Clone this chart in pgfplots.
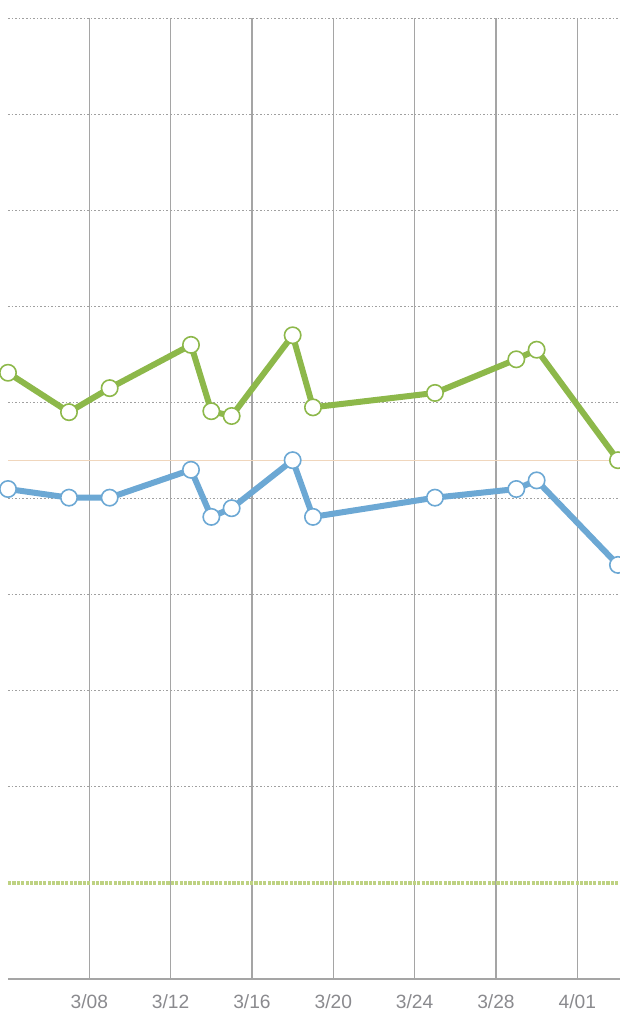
\documentclass[border=0pt]{standalone}
\usepackage{fontspec}
\setmainfont{Liberation Sans}
\usepackage{pgfplots}
\pgfplotsset{compat=1.18}
\usetikzlibrary{calc}

\definecolor{hgreen}{RGB}{141,184,74}
\definecolor{hblue}{RGB}{108,168,212}
\definecolor{refgreen}{RGB}{190,210,130}
\definecolor{reforange}{RGB}{240,214,188}
\definecolor{gridgray}{RGB}{160,160,160}
\definecolor{vgray}{RGB}{165,165,165}
\definecolor{labelgray}{RGB}{138,138,142}

\begin{document}
\begin{tikzpicture}
  \begin{axis}[
    name=ax,
    scale only axis,
    width=306pt,
    height=489.5pt,
    xmin=0, xmax=30.1,
    ymin=0, ymax=10.19,
    xtick={4,8,12,16,20,24,28},
    xticklabels={3/08,3/12,3/16,3/20,3/24,3/28,4/01},
    ytick={2,3,4,5,6,7,8,9,10},
    yticklabels={},
    ymajorgrids,
    grid style={gridgray, line width=0.5pt, dash pattern=on 0.8pt off 1pt},
    axis line style={draw=none},
    major tick style={draw=none},
    xticklabel style={anchor=base, yshift=-14.5pt, text=labelgray, font=\fontsize{9.6}{11}\selectfont},
    clip=false
  ]
    % vertical day lines and frame
    \pgfplotsinvokeforeach{4,8,12,16,20,24,28}{
      \draw[vgray, line width=0.8pt] (#1,0) -- (#1,10);
    }
    \draw[vgray!60, line width=0.5pt] (30.1,0) -- (30.1,10);
    \draw[vgray, line width=1pt] (0,0) -- (30.1,0);

    % reference lines
    \addplot[refgreen, line width=1.6pt, dash pattern=on 1.6pt off 0.6pt] coordinates {(0,1) (30.1,1)};
    \addplot[reforange, line width=0.6pt] coordinates {(0,5.4) (30.1,5.4)};

    % series
    \addplot[hgreen, line width=3pt, line join=round, mark=*, mark size=4.1pt,
      mark options={fill=white, draw=hgreen, line width=0.8pt}] coordinates {
      (0,6.31) (3,5.90) (5,6.15) (9,6.60) (10,5.91) (11,5.86)
      (14,6.70) (15,5.95) (21,6.10) (25,6.45) (26,6.55) (30,5.40)
    };
    \addplot[hblue, line width=3pt, line join=round, mark=*, mark size=4.1pt,
      mark options={fill=white, draw=hblue, line width=0.8pt}] coordinates {
      (0,5.10) (3,5.01) (5,5.01) (9,5.30) (10,4.81) (11,4.90)
      (14,5.40) (15,4.81) (21,5.01) (25,5.10) (26,5.19) (30,4.31)
    };
  \end{axis}
  \pgfresetboundingbox
  \path[use as bounding box] ($(ax.south west)+(-4pt,-22.5pt)$) rectangle (ax.north east);
\end{tikzpicture}
\end{document}
